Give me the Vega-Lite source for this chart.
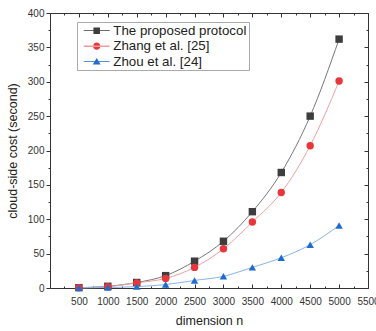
{
  "$schema": "https://vega.github.io/schema/vega-lite/v6.json",
  "width": 318,
  "height": 275,
  "autosize": {"type": "none"},
  "padding": {"left": 50, "top": 13, "right": 8, "bottom": 43},
  "config": {
    "view": {"stroke": "#333", "strokeWidth": 1},
    "font": "Liberation Sans",
    "axis": {"labelFont": "Liberation Sans", "titleFont": "Liberation Sans", "labelColor": "#333", "titleColor": "#222", "tickColor": "#333", "domain": false, "grid": false, "format": "d", "labelOverlap": false, "labelBound": false, "labelFlush": false},
    "legend": {"orient": "none", "legendX": 27, "legendY": 9, "title": null, "symbolSize": 169, "symbolStrokeWidth": 0, "labelFontSize": 13.3, "labelColor": "#222", "labelFont": "Liberation Sans", "rowPadding": 1.5, "labelOffset": 21, "strokeColor": "#aaaaaa", "padding": 2, "fillColor": "white", "labelLimit": 200}
  },
  "datasets": {
    "d": [
      {"n": 500, "series": "The proposed protocol", "cost": 0.5},
      {"n": 1000, "series": "The proposed protocol", "cost": 2.5},
      {"n": 1500, "series": "The proposed protocol", "cost": 8},
      {"n": 2000, "series": "The proposed protocol", "cost": 18},
      {"n": 2500, "series": "The proposed protocol", "cost": 39},
      {"n": 3000, "series": "The proposed protocol", "cost": 68},
      {"n": 3500, "series": "The proposed protocol", "cost": 111},
      {"n": 4000, "series": "The proposed protocol", "cost": 168},
      {"n": 4500, "series": "The proposed protocol", "cost": 250},
      {"n": 5000, "series": "The proposed protocol", "cost": 362},
      {"n": 500, "series": "Zhang et al. [25]", "cost": 0.4},
      {"n": 1000, "series": "Zhang et al. [25]", "cost": 2},
      {"n": 1500, "series": "Zhang et al. [25]", "cost": 7.5},
      {"n": 2000, "series": "Zhang et al. [25]", "cost": 14},
      {"n": 2500, "series": "Zhang et al. [25]", "cost": 30},
      {"n": 3000, "series": "Zhang et al. [25]", "cost": 57},
      {"n": 3500, "series": "Zhang et al. [25]", "cost": 96},
      {"n": 4000, "series": "Zhang et al. [25]", "cost": 139},
      {"n": 4500, "series": "Zhang et al. [25]", "cost": 207},
      {"n": 5000, "series": "Zhang et al. [25]", "cost": 301},
      {"n": 500, "series": "Zhou et al. [24]", "cost": 0.2},
      {"n": 1000, "series": "Zhou et al. [24]", "cost": 0.8},
      {"n": 1500, "series": "Zhou et al. [24]", "cost": 2},
      {"n": 2000, "series": "Zhou et al. [24]", "cost": 5},
      {"n": 2500, "series": "Zhou et al. [24]", "cost": 11},
      {"n": 3000, "series": "Zhou et al. [24]", "cost": 17},
      {"n": 3500, "series": "Zhou et al. [24]", "cost": 30},
      {"n": 4000, "series": "Zhou et al. [24]", "cost": 44},
      {"n": 4500, "series": "Zhou et al. [24]", "cost": 63},
      {"n": 5000, "series": "Zhou et al. [24]", "cost": 91}
    ]
  },
  "data": {"name": "d"},
  "layer": [
    {
      "mark": {"type": "line", "interpolate": "monotone", "strokeWidth": 1},
      "encoding": {
        "x": {"field": "n", "type": "quantitative", "scale": {"domain": [0, 5500], "nice": false, "zero": false},
          "axis": {"orient": "bottom", "values": [500, 1000, 1500, 2000, 2500, 3000, 3500, 4000, 4500, 5000, 5500], "ticks": false, "labelFontSize": 10, "labelPadding": 8, "title": "dimension n", "titleFontSize": 12.5, "titleFontWeight": "normal", "titlePadding": 8}},
        "y": {"field": "cost", "type": "quantitative", "scale": {"domain": [0, 400], "nice": false},
          "axis": {"orient": "left", "values": [0, 50, 100, 150, 200, 250, 300, 350, 400], "tickSize": 4, "labelFontSize": 10, "labelPadding": 2, "title": "cloud-side cost (second)", "titleFontSize": 12.5, "titleFontWeight": "normal", "titlePadding": 8}},
        "color": {"field": "series", "type": "nominal", "legend": null,
          "scale": {"domain": ["The proposed protocol", "Zhang et al. [25]", "Zhou et al. [24]"], "range": ["#777777", "#f2a0a0", "#86b4ea"]}}
      }
    },
    {
      "mark": {"type": "point", "filled": true, "opacity": 1, "size": 55},
      "encoding": {
        "x": {"field": "n", "type": "quantitative",
          "axis": {"orient": "top", "values": [500, 1000, 1500, 2000, 2500, 3000, 3500, 4000, 4500, 5000, 5500], "tickSize": -4, "labels": false, "title": null}},
        "y": {"field": "cost", "type": "quantitative",
          "axis": {"orient": "right", "values": [0, 50, 100, 150, 200, 250, 300, 350, 400], "tickSize": -4, "labels": false, "title": null}},
        "color": {"field": "series", "type": "nominal", "legend": null,
          "scale": {"domain": ["The proposed protocol", "Zhang et al. [25]", "Zhou et al. [24]"], "range": ["#3d3d3d", "#e8363a", "#1f6bd0"]}},
        "shape": {"field": "series", "type": "nominal", "legend": null,
          "scale": {"domain": ["The proposed protocol", "Zhang et al. [25]", "Zhou et al. [24]"], "range": ["square", "circle", "triangle-up"]}}
      }
    },
    {
      "mark": {"type": "point", "filled": true, "opacity": 0, "size": 169},
      "encoding": {
        "x": {"field": "n", "type": "quantitative",
          "axis": {"orient": "bottom", "values": [250, 750, 1250, 1750, 2250, 2750, 3250, 3750, 4250, 4750, 5250], "tickSize": -2, "labels": false, "title": null}},
        "y": {"field": "cost", "type": "quantitative",
          "axis": {"orient": "left", "values": [25, 75, 125, 175, 225, 275, 325, 375], "tickSize": 2, "labels": false, "title": null}},
        "color": {"field": "series", "type": "nominal",
          "scale": {"domain": ["The proposed protocol", "Zhang et al. [25]", "Zhou et al. [24]"], "range": ["#3d3d3d", "#e8363a", "#1f6bd0"]},
          "legend": {"encode": {"symbols": {"update": {"opacity": {"value": 1}, "fillOpacity": {"value": 1}}}}}},
        "shape": {"field": "series", "type": "nominal",
          "scale": {"domain": ["The proposed protocol", "Zhang et al. [25]", "Zhou et al. [24]"], "range": [
            "M-0.3,-0.06H3.7V0.06H-0.3Z M1.2,-0.5H2.2V0.5H1.2Z",
            "M-0.3,-0.06H3.7V0.06H-0.3Z M1.15,0A0.55,0.55 0 1,0 2.25,0A0.55,0.55 0 1,0 1.15,0Z",
            "M-0.3,-0.06H3.7V0.06H-0.3Z M1.7,-0.55L2.3,0.45H1.1Z"]},
          "legend": {"encode": {"symbols": {"update": {"opacity": {"value": 1}, "fillOpacity": {"value": 1}}}}}}
      }
    },
    {
      "mark": {"type": "point", "opacity": 0},
      "encoding": {
        "x": {"field": "n", "type": "quantitative",
          "axis": {"orient": "top", "values": [250, 750, 1250, 1750, 2250, 2750, 3250, 3750, 4250, 4750, 5250], "tickSize": -2, "labels": false, "title": null}},
        "y": {"field": "cost", "type": "quantitative",
          "axis": {"orient": "right", "values": [25, 75, 125, 175, 225, 275, 325, 375], "tickSize": -2, "labels": false, "title": null}}
      }
    },
    {
      "mark": {"type": "point", "opacity": 0},
      "encoding": {
        "x": {"field": "n", "type": "quantitative",
          "axis": {"orient": "bottom", "values": [500, 1000, 1500, 2000, 2500, 3000, 3500, 4000, 4500, 5000, 5500], "tickSize": -4, "labels": false, "title": null}},
        "y": {"field": "cost", "type": "quantitative", "axis": null}
      }
    }
  ],
  "resolve": {
    "scale": {"color": "independent", "shape": "independent"},
    "axis": {"x": "independent", "y": "independent"},
    "legend": {"color": "independent", "shape": "independent"}
  }
}
